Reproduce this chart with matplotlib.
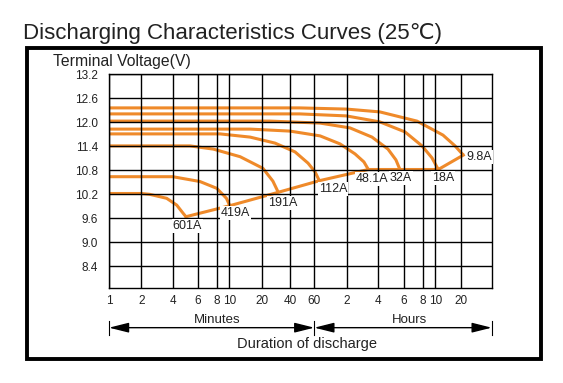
import numpy as np
import matplotlib
matplotlib.use("Agg")
import matplotlib.pyplot as plt
from matplotlib.patches import Rectangle

plt.rcParams["font.family"] = ["Liberation Sans", "DejaVu Sans"]

# ---- data (time in minutes, voltage in V) ----
TICK_MIN = [1, 2, 4, 6, 8, 10, 20, 40, 60, 120, 240, 360, 480, 600, 1200]
TICK_LABELS = ["1", "2", "4", "6", "8", "10", "20", "40", "60",
               "2", "4", "6", "8", "10", "20"]
X_MAX = 2400
V_TICKS = [8.4, 9.0, 9.6, 10.2, 10.8, 11.4, 12.0, 12.6, 13.2]
V_MIN = 7.85

t_601 = [1, 2, 2.4, 3.5, 4.27, 4.75, 4.96]
v_601 = [10.22, 10.22, 10.2, 10.1, 9.93, 9.72, 9.64]
t_419 = [1, 4, 6.2, 8, 9.5, 10.1]
v_419 = [10.64, 10.64, 10.52, 10.35, 10.1, 9.92]
t_191 = [1, 5.3, 7.6, 12.6, 20.6, 26.3, 30]
v_191 = [11.41, 11.41, 11.33, 11.14, 10.85, 10.53, 10.25]
t_112 = [1, 8.5, 15.6, 27.7, 43.5, 54, 61, 66.8]
v_112 = [11.71, 11.71, 11.63, 11.48, 11.26, 10.98, 10.76, 10.54]
t_48 = [1, 15.6, 40, 68, 104, 144, 175, 193]
v_48 = [11.83, 11.83, 11.78, 11.66, 11.46, 11.21, 11.01, 10.82]
t_32 = [1, 24.5, 68, 129, 209, 280, 318, 339]
v_32 = [12.03, 12.03, 11.98, 11.86, 11.63, 11.33, 11.06, 10.82]
t_18 = [1, 47, 119, 246, 367, 475, 566, 651]
v_18 = [12.21, 12.21, 12.16, 12.01, 11.76, 11.41, 11.11, 10.82]
t_9_8 = [1, 47, 120, 246, 440, 740, 1028, 1272]
v_9_8 = [12.36, 12.36, 12.33, 12.26, 12.03, 11.68, 11.41, 11.18]

# end-of-discharge voltage line joining the curve ends
t_cut = [4.96, 10.1, 30, 66.8, 193, 339, 651, 1272]
v_cut = [9.64, 9.915, 10.25, 10.54, 10.82, 10.82, 10.82, 11.18]

label_names = ["601A", "419A", "191A", "112A", "48.1A", "32A", "18A", "9.8A"]
label_t = [5.05, 11.4, 33.7, 89.5, 211, 344, 740, 1826]
label_v = [9.41, 9.725, 9.99, 10.325, 10.58, 10.61, 10.61, 11.13]

# the printed time axis is not a true log scale: spacing of each grid line
GRID_POS = [0, 32.3, 63.7, 88.7, 107.7, 120.3, 152.7, 181, 205.3,
            237.7, 269.3, 294.7, 313.7, 326.3, 351.7, 382.7]
GRID_LOG = np.log10(TICK_MIN + [X_MAX])


def fwd(x):
    x = np.clip(np.asarray(x, float), 1e-3, None)
    return np.interp(np.log10(x), GRID_LOG, GRID_POS,
                     left=GRID_POS[0], right=GRID_POS[-1])


def inv(p):
    return 10 ** np.interp(np.asarray(p, float), GRID_POS, GRID_LOG)


ORANGE = "#ef8a2a"
TXT = "#222222"

fig = plt.figure(figsize=(5.63, 3.83), dpi=100)
ax = fig.add_axes([109 / 563, 1 - 288.3 / 383, 382.7 / 563, 214 / 383])

ax.set_xscale("function", functions=(fwd, inv))
ax.set_xlim(1, X_MAX)
ax.set_ylim(V_MIN, 13.2)

for t, v in [(t_601, v_601), (t_419, v_419), (t_191, v_191), (t_112, v_112),
             (t_48, v_48), (t_32, v_32), (t_18, v_18), (t_9_8, v_9_8)]:
    ax.plot(t, v, color=ORANGE, lw=2.2, solid_capstyle="butt",
            solid_joinstyle="round", zorder=2)
ax.plot(t_cut, v_cut, color=ORANGE, lw=2.2, solid_joinstyle="round", zorder=2)

for name, t, v in zip(label_names, label_t, label_v):
    ax.text(t, v, name, ha="center", va="center", fontsize=9, color=TXT,
            zorder=4, bbox=dict(facecolor="white", edgecolor="none", pad=0.6))

ax.set_xticks(TICK_MIN)
ax.set_xticklabels(TICK_LABELS)
ax.xaxis.set_minor_locator(matplotlib.ticker.NullLocator())
ax.set_yticks(V_TICKS)
ax.set_yticklabels([f"{v:.1f}" for v in V_TICKS])
ax.tick_params(axis="x", length=0, pad=5, labelsize=8.5, labelcolor=TXT)
ax.tick_params(axis="y", length=0, pad=8, labelsize=8.5, labelcolor=TXT)
ax.grid(True, color="black", lw=1.0)
ax.set_axisbelow(False)
for s in ax.spines.values():
    s.set_color("black")
    s.set_linewidth(1.0)

# duration arrows below the axis
bx = ("data", "axes fraction")
for x0, x1 in [(1, 60), (60, X_MAX)]:
    ax.annotate("", xy=(x0, -0.184), xytext=(x1, -0.184), xycoords=bx,
                arrowprops=dict(arrowstyle="<|-|>,head_length=1.0,head_width=0.25",
                                color="black", lw=1.0, shrinkA=0, shrinkB=0,
                                mutation_scale=12))
for xb in [1, 60, X_MAX]:
    ax.plot([xb, xb], [-0.151, -0.218], color="black", lw=0.8,
            transform=ax.get_xaxis_transform(), clip_on=False)
ax.text(8, -0.148, "Minutes", transform=ax.get_xaxis_transform(),
        ha="center", va="center", fontsize=9.5, color=TXT)
ax.text(395, -0.148, "Hours", transform=ax.get_xaxis_transform(),
        ha="center", va="center", fontsize=9.5, color=TXT)
ax.text(52.8, -0.262, "Duration of discharge", transform=ax.get_xaxis_transform(),
        ha="center", va="center", fontsize=10.5, color=TXT)

fig.text(53 / 563, 1 - 61.7 / 383, "Terminal Voltage(V)", ha="left",
         va="center", fontsize=11.3, color=TXT)
fig.text(23 / 563, 1 - 33 / 383, "Discharging Characteristics Curves (25\u2103)",
         ha="left", va="center", fontsize=16, color=TXT)

fig.patches.append(Rectangle((26.5 / 563, 1 - 359 / 383), 514 / 563, 311 / 383,
                             transform=fig.transFigure, fill=False,
                             edgecolor="black", lw=2.8))

fig.savefig("out.png", dpi=100)
